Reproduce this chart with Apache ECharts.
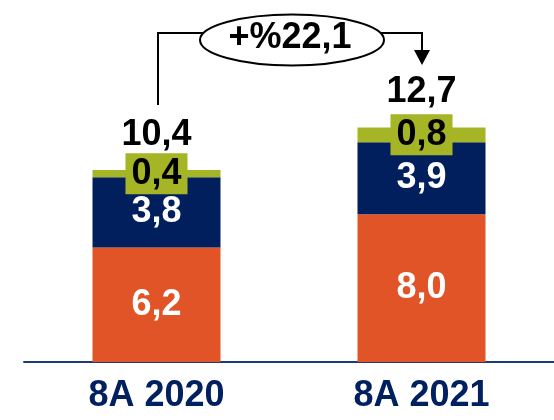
<!DOCTYPE html>
<html>
<head>
<meta charset="utf-8">
<style>html,body{margin:0;padding:0;background:#fff;}#c{width:554px;height:420px;}</style>
<script src="https://cdn.jsdelivr.net/npm/echarts@6/dist/echarts.min.js"></script>
</head>
<body>
<div id="c"></div>
<script>
const categories = ['8A 2020', '8A 2021'];
const orangeValues = [6.2, 8.0];
const navyValues = [3.8, 3.9];
const greenValues = [0.4, 0.8];
const totals = [10.4, 12.7];
const growthLabel = '+%22,1';

const FONT = '"Liberation Sans", Arial, sans-serif';
const fmt = v => v.toFixed(1).replace('.', ',');

const chart = echarts.init(document.getElementById('c'), null, {renderer: 'canvas'});
chart.setOption({
  animation: false,
  grid: {left: 24, right: 0, top: 85, bottom: 58},
  xAxis: {
    type: 'category',
    data: categories,
    axisLine: {show: true, lineStyle: {color: '#1F3A78', width: 2}},
    axisTick: {show: false},
    axisLabel: {color: '#002060', fontFamily: FONT, fontWeight: 'bold', fontSize: 36, lineHeight: 36, margin: 16}
  },
  yAxis: {type: 'value', min: 0, max: 15, show: false, splitLine: {show: false}},
  series: [
    {
      type: 'bar', stack: 's', data: orangeValues, barWidth: 128,
      itemStyle: {color: '#E05428'},
      label: {show: true, position: 'inside', color: '#fff', fontFamily: FONT, fontWeight: 'bold', fontSize: 36, lineHeight: 36, formatter: p => fmt(p.value)}
    },
    {
      type: 'bar', stack: 's', data: navyValues, barWidth: 128,
      itemStyle: {color: '#001F5C'},
      label: {show: true, position: 'inside', color: '#fff', fontFamily: FONT, fontWeight: 'bold', fontSize: 36, lineHeight: 36, formatter: p => fmt(p.value)}
    },
    {
      type: 'bar', stack: 's', data: greenValues, barWidth: 128,
      itemStyle: {color: '#A6B525'},
      label: {show: true, position: 'inside', color: '#000', fontFamily: FONT, fontWeight: 'bold', fontSize: 36, lineHeight: 36,
        backgroundColor: '#A6B525', padding: [3, 6, 2, 6], formatter: p => fmt(p.value)}
    },
    {
      type: 'bar', stack: 's', data: totals.map(() => 0), barWidth: 128, silent: true,
      itemStyle: {color: 'rgba(0,0,0,0)'},
      label: {show: true, position: 'top', distance: 17, color: '#000', fontFamily: FONT, fontWeight: 'bold', fontSize: 36, lineHeight: 36,
        formatter: p => fmt(totals[p.dataIndex])}
    }
  ],
  graphic: [
    {type: 'polyline', shape: {points: [[158, 105], [158, 33], [210, 33]]}, style: {stroke: '#000', lineWidth: 2, fill: null}, z: 10},
    {type: 'polyline', shape: {points: [[375, 33], [422, 33], [422, 52]]}, style: {stroke: '#000', lineWidth: 2, fill: null}, z: 10},
    {type: 'polygon', shape: {points: [[414, 50], [430, 50], [422, 65]]}, style: {fill: '#000'}, z: 10},
    {type: 'ellipse', shape: {cx: 292, cy: 40, rx: 92, ry: 25.5}, style: {fill: '#fff', stroke: '#000', lineWidth: 2}, z: 11},
    {type: 'text', x: 290, y: 38, style: {text: growthLabel, fill: '#000', font: 'bold 36px ' + FONT, align: 'center', verticalAlign: 'middle'}, z: 12}
  ]
});
</script>
</body>
</html>
